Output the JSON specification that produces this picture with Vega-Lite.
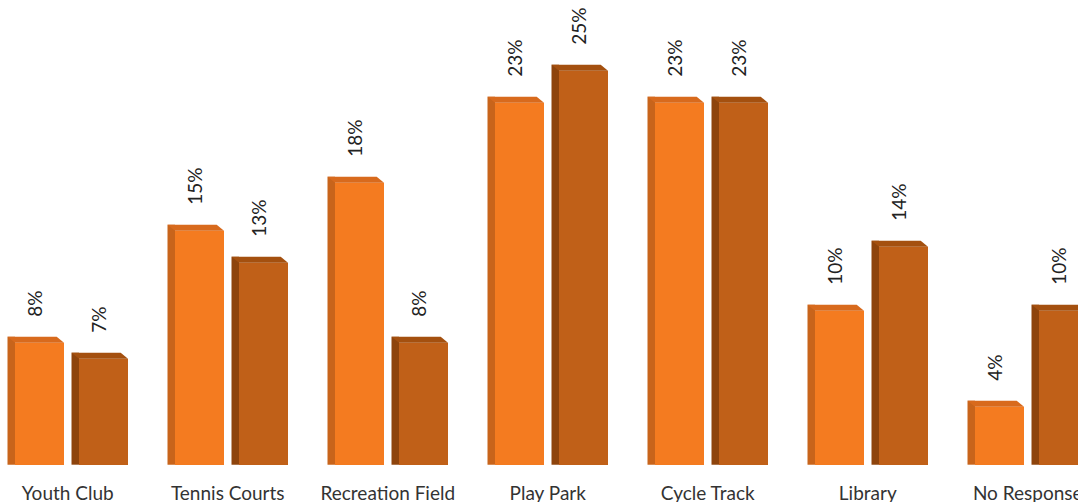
{
  "$schema": "https://vega.github.io/schema/vega-lite/v6.json",
  "width": 1078,
  "height": 465,
  "padding": {"left": 0, "top": 0, "right": 0, "bottom": 37},
  "autosize": {"type": "none"},
  "background": "white",
  "config": {"view": {"stroke": null}},
  "data": {"values": [
    {"category": "Youth Club", "series": "A", "value": 0.08},
    {"category": "Tennis Courts", "series": "A", "value": 0.15},
    {"category": "Recreation Field", "series": "A", "value": 0.18},
    {"category": "Play Park", "series": "A", "value": 0.23},
    {"category": "Cycle Track", "series": "A", "value": 0.23},
    {"category": "Library", "series": "A", "value": 0.10},
    {"category": "No Response", "series": "A", "value": 0.04},
    {"category": "Youth Club", "series": "B", "value": 0.07},
    {"category": "Tennis Courts", "series": "B", "value": 0.13},
    {"category": "Recreation Field", "series": "B", "value": 0.08},
    {"category": "Play Park", "series": "B", "value": 0.25},
    {"category": "Cycle Track", "series": "B", "value": 0.23},
    {"category": "Library", "series": "B", "value": 0.14},
    {"category": "No Response", "series": "B", "value": 0.10}
  ]},
  "encoding": {
    "x": {"field": "category", "type": "nominal", "sort": null,
      "scale": {"range": [-12.25, 1107.75], "paddingInner": 0, "paddingOuter": 0},
      "axis": {"title": null, "labelAngle": 0, "domain": false, "ticks": false, "tickSize": 0, "grid": false,
        "labelPadding": 19, "labelFont": "Lato", "labelFontSize": 19, "labelColor": "#333333"}},
    "y": {"field": "value", "type": "quantitative",
      "scale": {"domain": [0, 0.2942], "range": [470.7, 0]}, "axis": null}
  },
  "layer": [
    {"transform": [{"filter": "datum.series === 'A'"}],
     "mark": {"type": "bar", "width": 7.5, "xOffset": -56.5, "yOffset": -6, "clip": true, "color": "#C8641B"}},
    {"transform": [{"filter": "datum.series === 'A'"}],
     "mark": {"type": "bar", "width": 49, "xOffset": -28.25, "clip": true, "color": "#F47B20"}},
    {"transform": [{"filter": "datum.series === 'A'"}],
     "mark": {"type": "point", "filled": true, "opacity": 1, "strokeWidth": 0, "size": 400, "xOffset": -28.25,
       "shape": "M-3.2,-0.6L1.72,-0.6L2.45,0L-2.45,0Z", "color": "#D86A1D"}},
    {"transform": [{"filter": "datum.series === 'A'"}],
     "mark": {"type": "point", "filled": true, "opacity": 1, "strokeWidth": 0, "size": 400, "xOffset": -52.75,
       "shape": "M-0.8,-0.6L-0.8,0.1L0.02,0.1Z", "color": "white"},
     "encoding": {"y": {"datum": 0}}},
    {"transform": [{"filter": "datum.series === 'B'"}],
     "mark": {"type": "bar", "width": 7.5, "xOffset": 7.5, "yOffset": -6, "clip": true, "color": "#8E440C"}},
    {"transform": [{"filter": "datum.series === 'B'"}],
     "mark": {"type": "bar", "width": 49, "xOffset": 35.75, "clip": true, "color": "#C06018"}},
    {"transform": [{"filter": "datum.series === 'B'"}],
     "mark": {"type": "point", "filled": true, "opacity": 1, "strokeWidth": 0, "size": 400, "xOffset": 35.75,
       "shape": "M-3.2,-0.6L1.72,-0.6L2.45,0L-2.45,0Z", "color": "#A4500F"}},
    {"transform": [{"filter": "datum.series === 'B'"}],
     "mark": {"type": "point", "filled": true, "opacity": 1, "strokeWidth": 0, "size": 400, "xOffset": 11.25,
       "shape": "M-0.8,-0.6L-0.8,0.1L0.02,0.1Z", "color": "white"},
     "encoding": {"y": {"datum": 0}}},
    {"transform": [{"filter": "datum.series === 'A'"}],
     "mark": {"type": "text", "angle": 270, "align": "left", "baseline": "middle", "xOffset": -32, "yOffset": -26,
       "font": "Lato", "fontSize": 19, "color": "#222222"},
     "encoding": {"text": {"field": "value", "type": "quantitative", "format": ".0%"}}},
    {"transform": [{"filter": "datum.series === 'B'"}],
     "mark": {"type": "text", "angle": 270, "align": "left", "baseline": "middle", "xOffset": 32, "yOffset": -26,
       "font": "Lato", "fontSize": 19, "color": "#222222"},
     "encoding": {"text": {"field": "value", "type": "quantitative", "format": ".0%"}}}
  ]
}
